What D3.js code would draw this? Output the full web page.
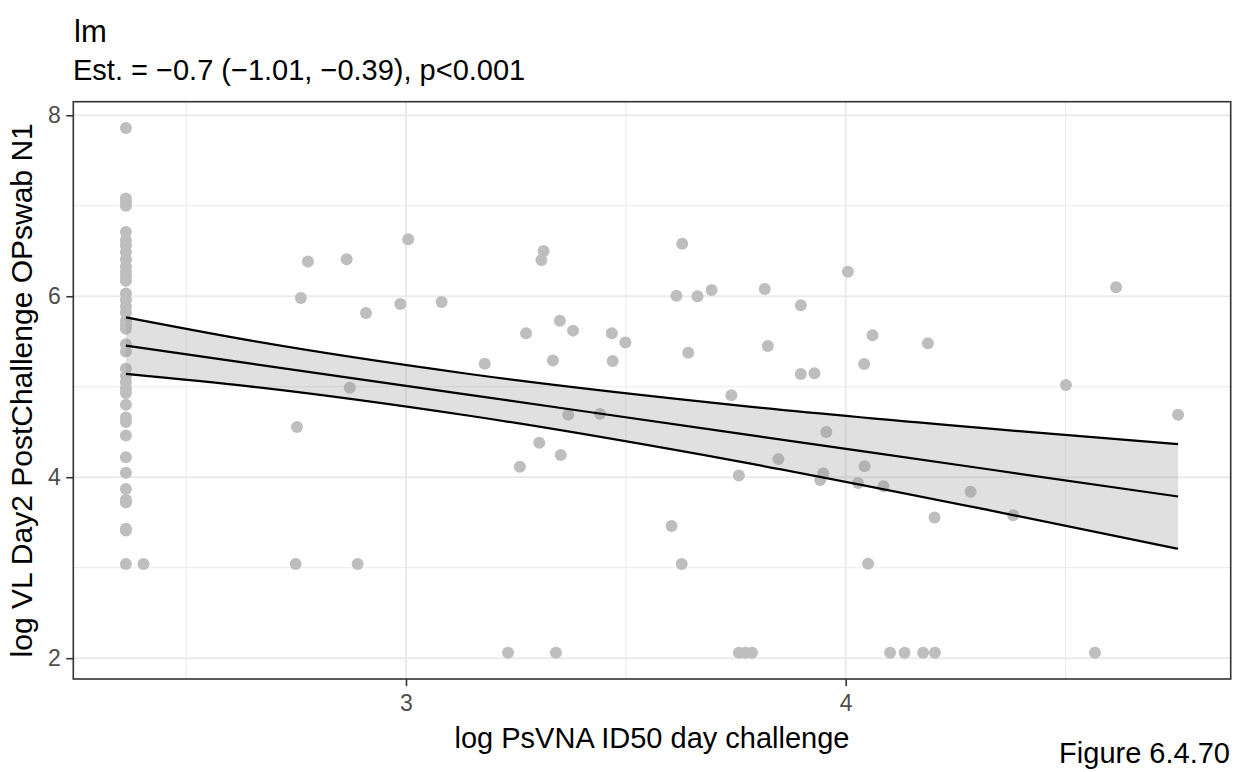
<!DOCTYPE html>
<html>
<head>
<meta charset="utf-8">
<script src="https://cdn.jsdelivr.net/npm/d3@7/dist/d3.min.js"></script>
<style>
  html, body { margin: 0; padding: 0; background: #fff; }
  svg { display: block; font-family: "Liberation Sans", Arial, sans-serif; }
</style>
</head>
<body>
<svg id="chart" width="1235" height="772"></svg>
<script>
// log PsVNA ID50 at day of challenge (x) and log viral load Day 2 (y)
const psvna = [
  2.363, 2.363, 2.363, 2.363, 2.363, 2.363, 2.363, 2.363, 2.363, 2.363,
  2.363, 2.363, 2.363, 2.363, 2.363, 2.363, 2.363, 2.363, 2.363, 2.363,
  2.363, 2.363, 2.363, 2.363, 2.363, 2.363, 2.363, 2.363, 2.363, 2.363,
  2.363, 2.363, 2.363, 2.363, 2.363, 2.363, 2.363, 2.363, 2.363,
  2.403, 2.777, 2.865, 3.005, 2.761, 2.909, 2.987, 3.081, 2.872, 2.752,
  2.749, 2.890, 3.313, 3.308, 3.273, 3.350, 3.380, 3.468, 3.499, 3.334,
  3.470, 3.179, 3.369, 3.441, 3.303, 3.352, 3.259, 3.628, 3.615, 3.663,
  3.695, 3.816, 3.898, 4.005, 3.642, 3.823, 3.898, 3.929, 3.740, 3.956,
  3.847, 3.757, 3.949, 3.942, 4.028, 3.604, 3.627, 3.232, 3.341, 3.757,
  3.772, 3.787, 4.061, 4.042, 4.187, 4.615, 4.501, 4.756, 4.043, 4.086,
  4.284, 4.202, 4.381, 4.051, 4.101, 4.134, 4.176, 4.203, 4.567
];
const viralLoad = [
  7.86, 7.08, 7.04, 7.00, 6.71, 6.62, 6.56, 6.49, 6.41, 6.33,
  6.27, 6.22, 6.17, 6.03, 5.96, 5.89, 5.82, 5.73, 5.68, 5.64,
  5.47, 5.39, 5.20, 5.12, 5.05, 4.98, 4.93, 4.80, 4.66, 4.61,
  4.46, 4.22, 4.05, 3.87, 3.75, 3.72, 3.43, 3.41, 3.04,
  3.04, 6.385, 6.41, 6.63, 5.98, 5.815, 5.914, 5.936, 4.99, 4.556,
  3.04, 3.04, 6.50, 6.40, 5.59, 5.73, 5.62, 5.59, 5.49, 5.29,
  5.285, 5.255, 4.69, 4.70, 4.38, 4.245, 4.115, 6.58, 6.005, 6.00,
  6.07, 6.08, 5.90, 6.27, 5.376, 5.45, 5.14, 5.15, 4.906, 4.50,
  4.20, 4.02, 4.045, 3.97, 3.935, 3.46, 3.04, 2.06, 2.06, 2.06,
  2.06, 2.06, 5.57, 5.25, 5.48, 6.10, 5.02, 4.69, 4.12, 3.90,
  3.84, 3.556, 3.58, 3.044, 2.06, 2.06, 2.06, 2.06, 2.06
];

// linear fit and its 95% confidence limits along the x range
const fitX     = [2.363, 2.644, 3.144, 3.759, 4.328, 4.756];
const fitY     = [5.454, 5.258, 4.910, 4.482, 4.085, 3.787];
const fitLower = [5.142, 5.004, 4.679, 4.172, 3.634, 3.209];
const fitUpper = [5.766, 5.512, 5.141, 4.792, 4.536, 4.365];

const xMajor = [3, 4];
const xMinor = [2.5, 3.5, 4.5];
const yMajor = [2, 4, 6, 8];
const yMinor = [3, 5, 7];

const titleText = "lm";
const subtitleText = "Est. = \u22120.7 (\u22121.01, \u22120.39), p<0.001";
const xTitle = "log PsVNA ID50 day challenge";
const yTitle = "log VL Day2 PostChallenge OPswab N1";
const captionText = "Figure 6.4.70";

const panel = { left: 73.3, right: 1230.7, top: 101.7, bottom: 679 };

const svg = d3.select("#chart");

// scales with 5% expansion on each side
const [x0, x1] = d3.extent(psvna);
const [y0, y1] = d3.extent(viralLoad);
const xPad = (x1 - x0) * 0.05, yPad = (y1 - y0) * 0.05;
const x = d3.scaleLinear().domain([x0 - xPad, x1 + xPad]).range([panel.left, panel.right]);
const y = d3.scaleLinear().domain([y0 - yPad, y1 + yPad]).range([panel.bottom, panel.top]);

const band = fitX.map((v, i) => ({ x: v, fit: fitY[i], lo: fitLower[i], hi: fitUpper[i] }));

// panel grid
const g = svg.append("g");
g.selectAll(".xminor").data(xMinor).join("line")
  .attr("x1", d => x(d)).attr("x2", d => x(d))
  .attr("y1", panel.top).attr("y2", panel.bottom)
  .attr("stroke", "#ebebeb").attr("stroke-width", 1);
g.selectAll(".yminor").data(yMinor).join("line")
  .attr("y1", d => y(d)).attr("y2", d => y(d))
  .attr("x1", panel.left).attr("x2", panel.right)
  .attr("stroke", "#ebebeb").attr("stroke-width", 1);
g.selectAll(".xmajor").data(xMajor).join("line")
  .attr("x1", d => x(d)).attr("x2", d => x(d))
  .attr("y1", panel.top).attr("y2", panel.bottom)
  .attr("stroke", "#ebebeb").attr("stroke-width", 2);
g.selectAll(".ymajor").data(yMajor).join("line")
  .attr("y1", d => y(d)).attr("y2", d => y(d))
  .attr("x1", panel.left).attr("x2", panel.right)
  .attr("stroke", "#ebebeb").attr("stroke-width", 2);

// points
g.append("g").selectAll("circle").data(psvna.map((v, i) => [v, viralLoad[i]])).join("circle")
  .attr("cx", d => x(d[0])).attr("cy", d => y(d[1])).attr("r", 6)
  .attr("fill", "#bebebe");

// confidence ribbon and fitted line
const curve = d3.curveMonotoneX;
g.append("path").datum(band)
  .attr("d", d3.area().curve(curve).x(d => x(d.x)).y0(d => y(d.lo)).y1(d => y(d.hi)))
  .attr("fill", "#999999").attr("fill-opacity", 0.3);
["hi", "fit", "lo"].forEach(k => {
  g.append("path").datum(band)
    .attr("d", d3.line().curve(curve).x(d => x(d.x)).y(d => y(d[k])))
    .attr("fill", "none").attr("stroke", "#000").attr("stroke-width", 2.2);
});

// panel border
g.append("rect")
  .attr("x", panel.left).attr("y", panel.top)
  .attr("width", panel.right - panel.left).attr("height", panel.bottom - panel.top)
  .attr("fill", "none").attr("stroke", "#333").attr("stroke-width", 1.6);

// axes
const xAxis = d3.axisBottom(x).tickValues(xMajor).tickSize(7).tickPadding(9).tickFormat(d3.format("d"));
const yAxis = d3.axisLeft(y).tickValues(yMajor).tickSize(7).tickPadding(5.5).tickFormat(d3.format("d"));
const ax = svg.append("g").attr("transform", `translate(0,${panel.bottom})`).call(xAxis);
const ay = svg.append("g").attr("transform", `translate(${panel.left},0)`).call(yAxis);
[ax, ay].forEach(a => {
  a.select(".domain").remove();
  a.selectAll(".tick line").attr("stroke", "#333").attr("stroke-width", 1.6);
  a.selectAll(".tick text").attr("fill", "#4d4d4d")
    .style("font-size", "23px").style("font-family", "Liberation Sans, Arial, sans-serif");
});

// titles
svg.append("text").attr("x", 74).attr("y", 42)
  .style("font-size", "31px").attr("fill", "#000").text(titleText);
svg.append("text").attr("x", 73).attr("y", 80)
  .style("font-size", "29px").attr("fill", "#000").text(subtitleText);
svg.append("text").attr("x", (panel.left + panel.right) / 2).attr("y", 748)
  .attr("text-anchor", "middle").style("font-size", "29px").attr("fill", "#000").text(xTitle);
svg.append("text")
  .attr("transform", `translate(32,${(panel.top + panel.bottom) / 2}) rotate(-90)`)
  .attr("text-anchor", "middle").style("font-size", "30px").attr("fill", "#000").text(yTitle);
svg.append("text").attr("x", 1230).attr("y", 763)
  .attr("text-anchor", "end").style("font-size", "29px").attr("fill", "#000").text(captionText);
</script>
</body>
</html>
